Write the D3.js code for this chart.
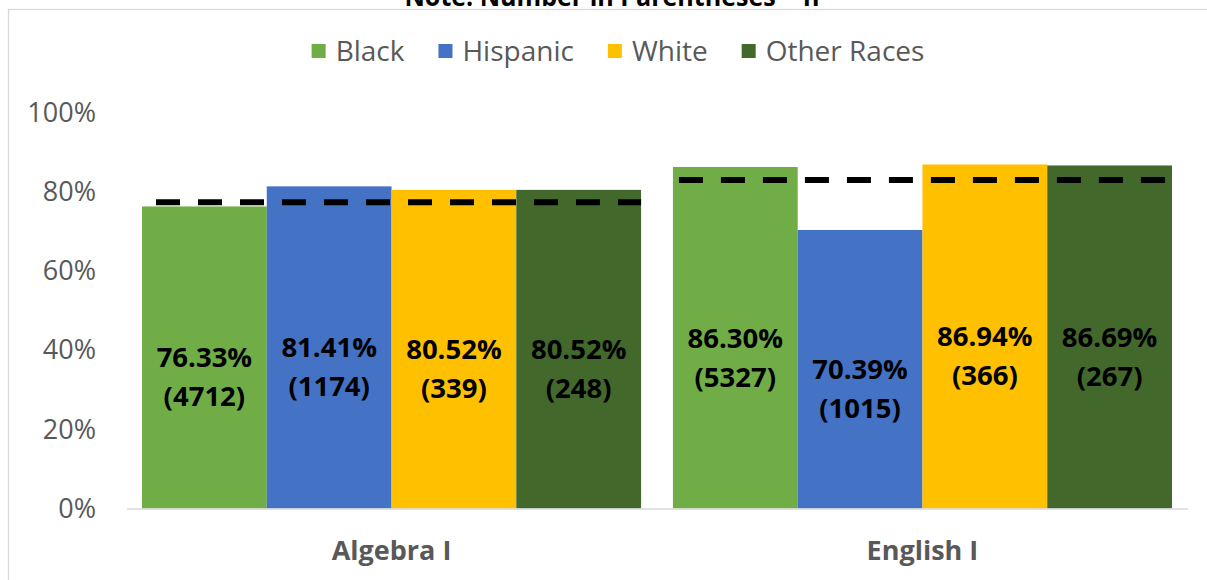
<!DOCTYPE html>
<html>
<head>
<meta charset="utf-8">
<script src="https://cdn.jsdelivr.net/npm/d3@7"></script>
<style>
  body { margin: 0; background: #fff; }
  svg { display: block; }
</style>
</head>
<body>
<div id="chart"></div>
<script>
"use strict";

// data
let categories = ["Algebra I", "English I"];
let groups = ["Black", "Hispanic", "White", "Other Races"];
let blackRate = [76.33, 86.30];
let hispanicRate = [81.41, 70.39];
let whiteRate = [80.52, 86.94];
let otherRate = [80.52, 86.69];
let blackN = [4712, 5327];
let hispanicN = [1174, 1015];
let whiteN = [339, 366];
let otherN = [248, 267];
let overallRate = [77.4, 83.0];
let yTicks = [0, 20, 40, 60, 80, 100];

let colors = ["#70ad47", "#4472c4", "#ffc000", "#43682b"];
let rates = [blackRate, hispanicRate, whiteRate, otherRate];
let counts = [blackN, hispanicN, whiteN, otherN];

let width = 1207, height = 580;

let svg = d3.select("#chart")
    .append("svg")
    .attr("width", width)
    .attr("height", height);

// chart frame (runs off the right and bottom edges)
svg.append("rect")
    .attr("x", 8.5)
    .attr("y", 9.5)
    .attr("width", 1220)
    .attr("height", 600)
    .attr("fill", "none")
    .attr("stroke", "#d9d9d9")
    .attr("stroke-width", 1.3);

// title, mostly cut off at the top in the original too
svg.append("text")
    .attr("x", 612)
    .attr("y", 6)
    .attr("text-anchor", "middle")
    .attr("font-family", "Open Sans, sans-serif")
    .attr("font-weight", "bold")
    .attr("font-size", 26)
    .attr("fill", "#000")
    .attr("textLength", 415)
    .attr("lengthAdjust", "spacingAndGlyphs")
    .text("Note: Number in Parentheses = n");

let x0 = d3.scaleBand()
    .domain(categories)
    .range([142, 1172])
    .paddingInner(0.06)
    .paddingOuter(0);

let x1 = d3.scaleBand()
    .domain(groups)
    .range([0, x0.bandwidth()])
    .padding(0);

let y = d3.scaleLinear()
    .domain([0, 100])
    .range([508.5, 112.8]);

// y axis labels only
let yAxis = svg.append("g")
    .attr("transform", "translate(96,0)")
    .call(d3.axisLeft(y).tickValues(yTicks).tickFormat(d => d + "%").tickSize(0).tickPadding(0));
yAxis.select(".domain").remove();
yAxis.selectAll("text")
    .attr("font-family", "Open Sans, sans-serif")
    .attr("font-size", 27)
    .attr("fill", "#595959");

// bars
let catGroups = svg.selectAll("g.cat")
    .data(categories)
    .join("g")
    .attr("class", "cat")
    .attr("transform", d => `translate(${x0(d)},0)`);

catGroups.each(function (cat, ci) {
    let g = d3.select(this);
    let rows = groups.map((grp, gi) => ({ grp: grp, gi: gi, v: rates[gi][ci], n: counts[gi][ci] }));

    g.selectAll("rect")
        .data(rows)
        .join("rect")
        .attr("x", d => x1(d.grp))
        .attr("y", d => y(d.v))
        .attr("width", x1.bandwidth())
        .attr("height", d => y(0) - y(d.v))
        .attr("fill", d => colors[d.gi]);

    let labels = g.selectAll("text.lbl")
        .data(rows)
        .join("text")
        .attr("class", "lbl")
        .attr("text-anchor", "middle")
        .attr("font-family", "Open Sans, sans-serif")
        .attr("font-weight", "bold")
        .attr("font-size", 27.5)
        .attr("fill", "#000");
    labels.append("tspan")
        .attr("x", d => x1(d.grp) + x1.bandwidth() / 2)
        .attr("y", d => (y(d.v) + y(0)) / 2 + 10)
        .text(d => d.v.toFixed(2) + "%");
    labels.append("tspan")
        .attr("x", d => x1(d.grp) + x1.bandwidth() / 2)
        .attr("y", d => (y(d.v) + y(0)) / 2 + 49)
        .text(d => "(" + d.n + ")");
});

// dashed overall rate per course
let dashPhase = [28, 36];
svg.selectAll("line.avg")
    .data(categories)
    .join("line")
    .attr("class", "avg")
    .attr("x1", d => x0(d))
    .attr("x2", d => x0(d) + x0.bandwidth())
    .attr("y1", (d, i) => y(overallRate[i]))
    .attr("y2", (d, i) => y(overallRate[i]))
    .attr("stroke", "#000")
    .attr("stroke-width", 6)
    .attr("stroke-dasharray", "24,18")
    .attr("stroke-dashoffset", (d, i) => dashPhase[i]);

// x axis line and category labels
svg.append("line")
    .attr("x1", 127)
    .attr("x2", 1188)
    .attr("y1", 509)
    .attr("y2", 509)
    .attr("stroke", "#d9d9d9")
    .attr("stroke-width", 1.5);

svg.selectAll("text.cat")
    .data(categories)
    .join("text")
    .attr("class", "cat")
    .attr("x", d => x0(d) + x0.bandwidth() / 2)
    .attr("y", 560)
    .attr("text-anchor", "middle")
    .attr("font-family", "Open Sans, sans-serif")
    .attr("font-weight", "bold")
    .attr("font-size", 27)
    .attr("fill", "#595959")
    .text(d => d);

// legend
let legend = svg.append("g");
let lx = 0;
groups.forEach((grp, i) => {
    let item = legend.append("g").attr("transform", `translate(${lx},0)`);
    item.append("rect")
        .attr("x", 0)
        .attr("y", 44)
        .attr("width", 14)
        .attr("height", 14)
        .attr("fill", colors[i]);
    let t = item.append("text")
        .attr("x", 24)
        .attr("y", 61)
        .attr("font-family", "Open Sans, sans-serif")
        .attr("font-size", 28)
        .attr("fill", "#595959")
        .text(grp);
    lx += 24 + t.node().getComputedTextLength() + 34;
});
let legendWidth = lx - 34;
legend.attr("transform", `translate(${618 - legendWidth / 2},0)`);
</script>
</body>
</html>
